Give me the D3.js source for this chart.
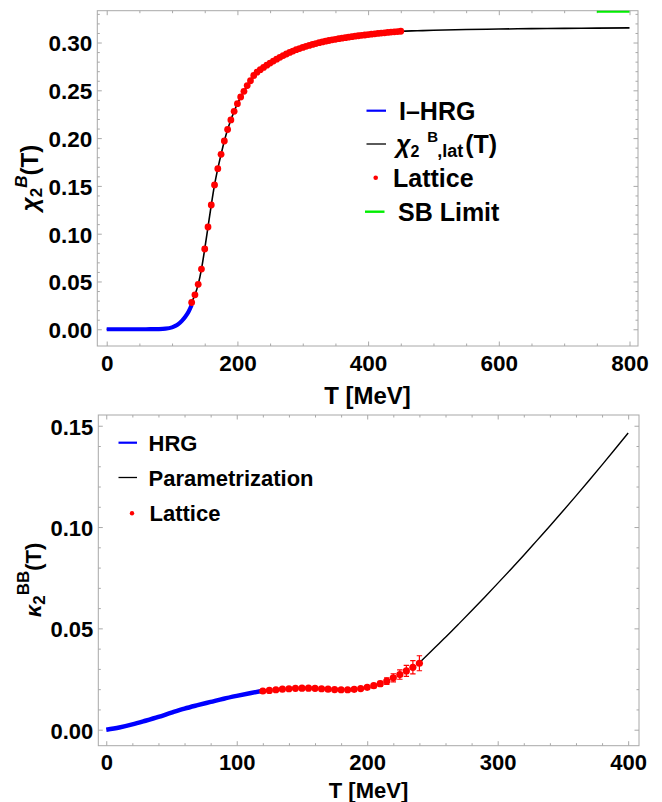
<!DOCTYPE html>
<html><head><meta charset="utf-8">
<script src="https://cdn.jsdelivr.net/npm/d3@7"></script>
<style>
body{margin:0;background:#fff}
text{font-family:"Liberation Sans",Arial,Helvetica,sans-serif;font-weight:bold;fill:#000}
</style>
</head><body><svg id="c" width="662" height="802"></svg>
<script>
// ---------- Top panel data: chi2^B(T) ----------
const hrgTopT = [0,10,20,30,40,50,60,70,80,90,100,105,110,115,120,125,130];
const hrgTopV = [0,0,0,0,0,0,0,0.0001,0.0002,0.0006,0.0020,0.0035,0.0057,0.0088,0.0128,0.0180,0.0254];

const latTopT = [130,135,140,145,150,155,160,165,170,175,180,185,190,195,200,205,210,215,220,225,
  230,235,240,245,250,255,260,265,270,275,280,285,290,295,300,305,310,315,320,325,
  330,335,340,345,350,355,360,365,370,375,380,385,390,395,400,405,410,415,420,425,
  430,435,440,445,450];
const latTopV = [0.028,0.036,0.047,0.063,0.084,0.107,0.130,0.151,0.168,0.183,0.197,0.209,0.219,0.228,0.236,0.243,0.249,0.255,0.260,0.2655,
  0.2690,0.2716,0.2740,0.2763,0.2785,0.2806,0.2826,0.2845,0.2863,0.2880,0.2896,0.2911,0.2925,0.2937,0.2949,0.2960,0.2970,0.2980,0.2989,0.2998,
  0.3006,0.3014,0.3021,0.3028,0.3034,0.3040,0.3046,0.3051,0.3056,0.3061,0.3066,0.3071,0.3075,0.3079,0.3083,0.3087,0.3091,0.3095,0.3099,0.3102,
  0.3106,0.3109,0.3112,0.3115,0.3118];

const parTopLowT = [0,80,90,100,105,110,115,120,125];
const parTopLowV = [0,0.0001,0.0004,0.0015,0.0028,0.0048,0.0078,0.0120,0.0178];
const parTopHighT = [475,500,550,600,650,700,750,800];
const parTopHighV = [0.3123,0.3128,0.3136,0.3141,0.3145,0.3148,0.3151,0.3153];

const sbT = [750,800];
const sbV = [0.3333,0.3333];

const topXTicks = [0,200,400,600,800];
const topYTicks = [0,0.05,0.10,0.15,0.20,0.25,0.30];

// ---------- Bottom panel data: kappa2^BB(T) ----------
const hrgBotT = [0,10,20,30,40,50,60,70,80,90,100,110,120];
const hrgBotV = [0,0.0011,0.0026,0.0044,0.0063,0.0084,0.0104,0.0121,0.0137,0.0153,0.0167,0.0180,0.0192];

const latBotT = [120,125,130,135,140,145,150,155,160,165,170,175,180,185,190,195,200,205,210,215,220,225,230,235,240];
const latBotV = [0.0191,0.0194,0.0197,0.0200,0.0202,0.0204,0.0205,0.0205,0.0204,0.0202,0.0200,0.0198,0.0197,0.0197,0.0199,0.0203,0.0209,0.0217,0.0227,0.0240,0.0256,0.0272,0.0290,0.0308,0.0328];
const latBotE = [0.0004,0.0004,0.0004,0.0004,0.0005,0.0005,0.0005,0.0005,0.0005,0.0005,0.0006,0.0006,0.0006,0.0006,0.0007,0.0007,0.0008,0.0010,0.0012,0.0016,0.0020,0.0023,0.0027,0.0033,0.0037];

const parBotT = [240,250,260,270,280,290,300,310,320,330,340,350,360,370,380,390,400];
const parBotV = [0.0330,0.0393,0.0456,0.0521,0.0587,0.0654,0.0722,0.0791,0.0861,0.0933,0.1005,0.1079,0.1154,0.1230,0.1307,0.1385,0.1464];

const botXTicks = [0,100,200,300,400];
const botYTicks = [0,0.05,0.10,0.15];

// ---------- Drawing ----------
const svg = d3.select("#c");
const FRAME = "#a8a8a8";

function zip(T,V){ return T.map((t,i)=>({t:t,v:V[i]})); }

function panel(cfg){
  const g = svg.append("g");
  const x = d3.scaleLinear().domain(cfg.xDom).range([cfg.left,cfg.right]);
  const y = d3.scaleLinear().domain(cfg.yDom).range([cfg.bottom,cfg.top]);
  const clipId = "clip"+cfg.id;
  svg.append("clipPath").attr("id",clipId).append("rect")
    .attr("x",cfg.left).attr("y",cfg.top).attr("width",cfg.right-cfg.left).attr("height",cfg.bottom-cfg.top);

  const mk = (axis, pos, vals, size, fmt) => {
    const a = g.append("g").attr("transform",pos)
      .call(axis.tickValues(vals).tickSize(size).tickFormat(fmt));
    a.select(".domain").remove();
    a.selectAll("line").attr("stroke",FRAME).attr("stroke-width",1);
    a.selectAll("text").attr("font-size",null).attr("font-family",null);
    return a;
  };
  const none = () => "";
  const xb = mk(d3.axisBottom(x), `translate(0,${cfg.bottom})`, cfg.xTicks, -4.5, d3.format("d"));
  xb.selectAll("text").attr("y",cfg.xLabOff).attr("dy",null).style("font-size",cfg.tickFont);
  mk(d3.axisBottom(x), `translate(0,${cfg.bottom})`, cfg.xMinor, -2.5, none);
  mk(d3.axisTop(x), `translate(0,${cfg.top})`, cfg.xTicks, -4.5, none);
  mk(d3.axisTop(x), `translate(0,${cfg.top})`, cfg.xMinor, -2.5, none);
  const yl = mk(d3.axisLeft(y), `translate(${cfg.left},0)`, cfg.yTicks, -4.5, d3.format(".2f"));
  yl.selectAll("text").attr("x",-5).attr("dy",null).attr("y",8.4).style("font-size",cfg.tickFont);
  mk(d3.axisLeft(y), `translate(${cfg.left},0)`, cfg.yMinor, -2.5, none);
  mk(d3.axisRight(y), `translate(${cfg.right},0)`, cfg.yTicks, -4.5, none);
  mk(d3.axisRight(y), `translate(${cfg.right},0)`, cfg.yMinor, -2.5, none);

  g.append("rect").attr("x",cfg.left).attr("y",cfg.top)
    .attr("width",cfg.right-cfg.left).attr("height",cfg.bottom-cfg.top)
    .attr("fill","none").attr("stroke",FRAME).attr("stroke-width",1);

  const plot = svg.append("g").attr("clip-path",`url(#${clipId})`);
  const line = d3.line().x(d=>x(d.t)).y(d=>y(d.v)).curve(d3.curveMonotoneX);
  return {g, plot, x, y, line};
}

// ---------- Top panel ----------
{
  const P = panel({id:"t", left:97.3, right:638, top:10.7, bottom:346,
    xDom:[-14.4,813], yDom:[-0.0175,0.3333],
    xTicks:topXTicks, yTicks:topYTicks, tickFont:"22.5px", xLabOff:25,
    xMinor:[50,100,150,250,300,350,450,500,550,650,700,750],
    yMinor:[0.01,0.02,0.03,0.04,0.06,0.07,0.08,0.09,0.11,0.12,0.13,0.14,0.16,0.17,0.18,0.19,0.21,0.22,0.23,0.24,0.26,0.27,0.28,0.29,0.31,0.32,0.33]});
  const parData = zip(parTopLowT,parTopLowV).concat(zip(latTopT,latTopV), zip(parTopHighT,parTopHighV));
  P.plot.append("path").datum(parData).attr("d",P.line).attr("fill","none").attr("stroke","#000").attr("stroke-width",1.6);
  P.plot.append("path").datum(zip(hrgTopT,hrgTopV)).attr("d",P.line).attr("fill","none").attr("stroke","#0000ff").attr("stroke-width",4.2);
  P.plot.append("path").datum(zip(sbT,sbV)).attr("d",P.line).attr("fill","none").attr("stroke","#00ee00").attr("stroke-width",4);
  P.plot.selectAll("circle.l").data(zip(latTopT,latTopV)).join("circle")
    .attr("cx",d=>P.x(d.t)).attr("cy",d=>P.y(d.v)).attr("r",3.4).attr("fill","#ff0000");

  svg.append("text").attr("x",367.5).attr("y",403.5).attr("text-anchor","middle").style("font-size","24px").text("T [MeV]");
  const yt = svg.append("text").attr("transform","translate(38,178) rotate(-90)").attr("text-anchor","middle").style("font-size","24px");
  yt.append("tspan").attr("font-style","italic").text("χ");
  yt.append("tspan").style("font-size","17px").attr("dy",4).text("2");
  yt.append("tspan").style("font-size","17px").attr("font-style","italic").attr("dy",-15).text("B");
  yt.append("tspan").attr("dy",11).text("(T)");

  const L = svg.append("g");
  L.append("line").attr("x1",366.5).attr("x2",386).attr("y1",110.7).attr("y2",110.7).attr("stroke","#0000ff").attr("stroke-width",2.2);
  L.append("text").attr("x",399).attr("y",119.7).style("font-size","25px").text("I–HRG");
  L.append("line").attr("x1",366.5).attr("x2",386).attr("y1",144).attr("y2",144).attr("stroke","#000").attr("stroke-width",1.3);
  const lt = L.append("text").attr("x",396).attr("y",153).style("font-size","25px");
  lt.append("tspan").attr("font-style","italic").text("χ");
  lt.append("tspan").style("font-size","16px").attr("dy",4.3).text("2");
  lt.append("tspan").style("font-size","15px").attr("dx",8).attr("dy",-15.6).text("B");
  lt.append("tspan").style("font-size","18px").attr("dx",-1).attr("dy",15.6).text(",lat");
  lt.append("tspan").attr("dx",2).attr("dy",-4.3).text("(T)");
  L.append("circle").attr("cx",375.7).attr("cy",177.7).attr("r",2.3).attr("fill","#ff0000");
  L.append("text").attr("x",393).attr("y",186.7).style("font-size","25px").text("Lattice");
  L.append("line").attr("x1",365).attr("x2",384.5).attr("y1",211.7).attr("y2",211.7).attr("stroke","#00ee00").attr("stroke-width",2.4);
  L.append("text").attr("x",398).attr("y",220.7).style("font-size","25px").text("SB Limit");
}

// ---------- Bottom panel ----------
{
  const P = panel({id:"b", left:98.3, right:639, top:415, bottom:745.7,
    xDom:[-6.1,408.3], yDom:[-0.0079,0.1553],
    xTicks:botXTicks, yTicks:botYTicks, tickFont:"22px", xLabOff:24,
    xMinor:[20,40,60,80,120,140,160,180,220,240,260,280,320,340,360,380],
    yMinor:[0.01,0.02,0.03,0.04,0.06,0.07,0.08,0.09,0.11,0.12,0.13,0.14]});
  P.plot.append("path").datum(zip(parBotT,parBotV)).attr("d",P.line).attr("fill","none").attr("stroke","#000").attr("stroke-width",1.4);
  P.plot.append("path").datum(zip(hrgBotT,hrgBotV)).attr("d",P.line).attr("fill","none").attr("stroke","#0000ff").attr("stroke-width",4.5);
  const lat = latBotT.map((t,i)=>({t:t,v:latBotV[i],e:latBotE[i]}));
  const eb = P.plot.append("g").attr("stroke","#ff0000").attr("stroke-width",1.2);
  lat.forEach(d=>{
    const cx=P.x(d.t), y1=P.y(d.v-d.e), y2=P.y(d.v+d.e);
    eb.append("line").attr("x1",cx).attr("x2",cx).attr("y1",y1).attr("y2",y2);
    eb.append("line").attr("x1",cx-2.7).attr("x2",cx+2.7).attr("y1",y1).attr("y2",y1);
    eb.append("line").attr("x1",cx-2.7).attr("x2",cx+2.7).attr("y1",y2).attr("y2",y2);
  });
  P.plot.selectAll("circle.l").data(lat).join("circle")
    .attr("cx",d=>P.x(d.t)).attr("cy",d=>P.y(d.v)).attr("r",3.6).attr("fill","#ff0000");

  svg.append("text").attr("x",368.5).attr("y",798).attr("text-anchor","middle").style("font-size","22px").text("T [MeV]");
  const yt = svg.append("text").attr("transform","translate(41,580) rotate(-90)").attr("text-anchor","middle").style("font-size","22px");
  yt.append("tspan").attr("font-style","italic").text("κ");
  yt.append("tspan").style("font-size","17px").attr("dy",4).text("2");
  yt.append("tspan").style("font-size","17px").attr("dy",-16).text("BB");
  yt.append("tspan").attr("dy",12).text("(T)");

  const L = svg.append("g");
  L.append("line").attr("x1",118.5).attr("x2",137).attr("y1",442.7).attr("y2",442.7).attr("stroke","#0000ff").attr("stroke-width",2.2);
  L.append("text").attr("x",148.5).attr("y",450.7).style("font-size","22px").text("HRG");
  L.append("line").attr("x1",118.5).attr("x2",137).attr("y1",477.5).attr("y2",477.5).attr("stroke","#000").attr("stroke-width",1.3);
  L.append("text").attr("x",148.5).attr("y",485.5).style("font-size","22px").text("Parametrization");
  L.append("circle").attr("cx",132).attr("cy",513.3).attr("r",2.2).attr("fill","#ff0000");
  L.append("text").attr("x",149.5).attr("y",521.3).style("font-size","22px").text("Lattice");
}
</script></body></html>
